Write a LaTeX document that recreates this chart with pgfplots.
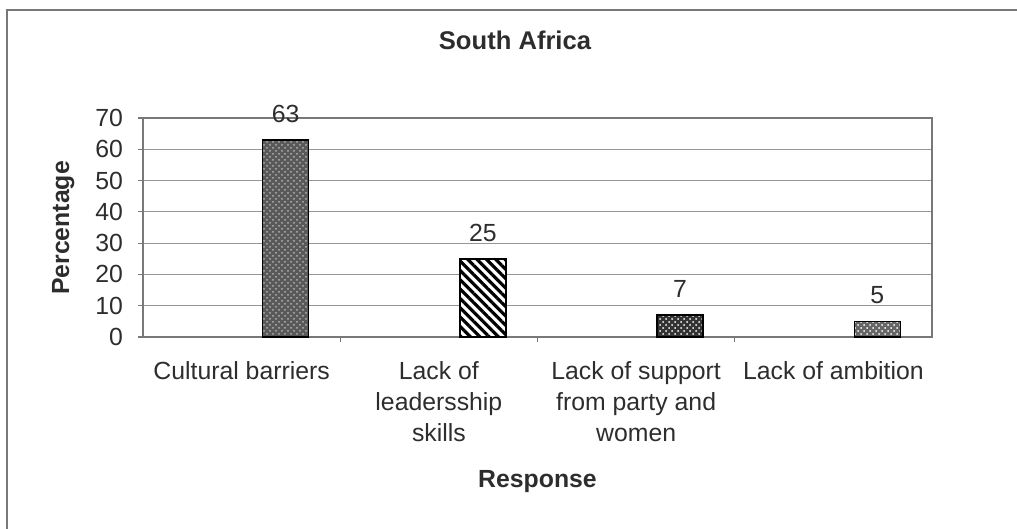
\documentclass[border=0pt]{standalone}
\usepackage{pgfplots}
\pgfplotsset{compat=1.18}
\usepackage{fontspec}
\setmainfont{Liberation Sans}
\usetikzlibrary{patterns,patterns.meta}

\newcommand{\chartfont}{\fontsize{12.4}{15.5}\selectfont}
\definecolor{inkgray}{RGB}{45,45,45}
\definecolor{framegray}{RGB}{120,120,120}
\definecolor{gridgray}{RGB}{150,150,150}

\begin{document}
\begin{tikzpicture}
\useasboundingbox (0,0) rectangle (508.5pt,264.5pt);
% chart frame
\draw[framegray, line width=0.8pt] (3.5pt,0) -- (3.5pt,259.5pt) -- (508.5pt,259.5pt);

\begin{axis}[
  at={(71.5pt,96pt)}, anchor=south west,
  scale only axis, width=394.5pt, height=109.5pt,
  xmin=-0.5, xmax=3.5, ymin=0, ymax=70,
  ytick={0,10,...,70},
  xtick={0,1,2,3},
  xticklabels={Cultural barriers,{Lack of\\leadersship\\skills},{Lack of support\\from party and\\women},Lack of ambition},
  extra x ticks={0.5,1.5,2.5},
  extra x tick labels={},
  x tick style={draw=none},
  extra x tick style={x tick style={draw=framegray, line width=0.6pt}},
  y tick style={framegray, line width=0.6pt},
  tick pos=left,
  tick align=outside, major tick length=2.5pt,
  ymajorgrids, grid style={gridgray, line width=0.6pt},
  axis line style={framegray, line width=0.7pt},
  /pgf/number format/assume math mode=true,
  tick label style={font=\chartfont, text=inkgray},
  yticklabel style={xshift=-4pt},
  xticklabel style={align=center, yshift=-6pt},
  nodes near coords,
  every node near coord/.append style={font=\chartfont, text=inkgray, yshift=5pt, xshift=22pt},
  clip=false,
]
\addplot[ybar, bar width=0.233, bar shift=0.223, draw=black, line width=0.8pt,
  fill=black!65, postaction={pattern=crosshatch dots, pattern color=black!30}]
  coordinates {(0,63)};
\addplot[ybar, bar width=0.233, bar shift=0.223, draw=black, line width=0.8pt,
  fill=white, postaction={pattern={Lines[angle=-45,distance=3.3pt,line width=1.6pt]}, pattern color=black}]
  coordinates {(1,25)};
\addplot[ybar, bar width=0.233, bar shift=0.223, draw=black, line width=0.8pt,
  fill=black!80, postaction={pattern=crosshatch dots, pattern color=white}]
  coordinates {(2,7)};
\addplot[ybar, bar width=0.233, bar shift=0.223, draw=black, line width=0.8pt,
  fill=black!60, postaction={pattern=crosshatch dots, pattern color=white}]
  coordinates {(3,5)};
\end{axis}

% titles
\node[font=\bfseries\fontsize{12.8}{15}\selectfont, text=inkgray] at (257.5pt,244.5pt) {South Africa};
\node[font=\bfseries\chartfont, text=inkgray, anchor=base] at (268.75pt,20.5pt) {Response};
\node[font=\bfseries\chartfont, text=inkgray, anchor=base, rotate=90] at (34.5pt,150.5pt) {Percentage};
\end{tikzpicture}
\end{document}
